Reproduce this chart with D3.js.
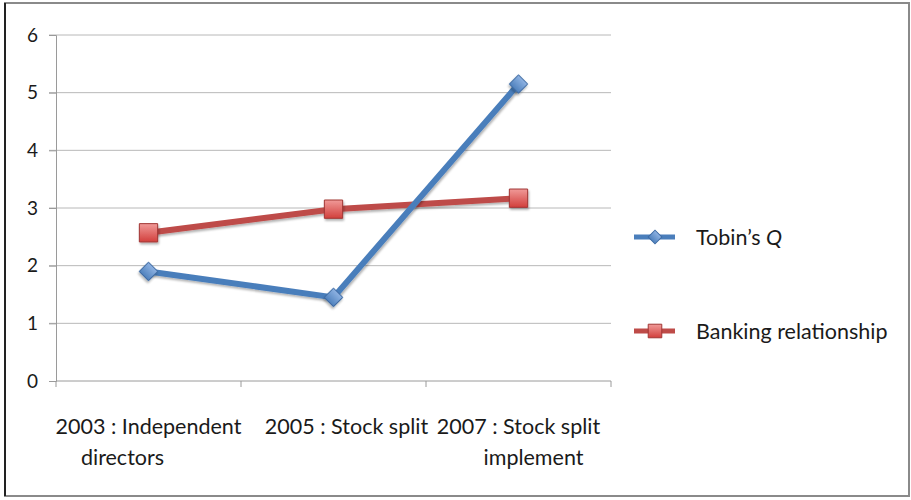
<!DOCTYPE html>
<html>
<head>
<meta charset="utf-8">
<script src="https://cdn.jsdelivr.net/npm/d3@7"></script>
<style>
  body { margin: 0; background: #fff; }
  svg text { font-family: Lato, "Open Sans", sans-serif; fill: #1a1a1a; }
</style>
</head>
<body>
<div id="chart"></div>
<script>
const categories = [["2003 : Independent", "directors"], ["2005 : Stock split"], ["2007 : Stock split", "implement"]];
const tobinsQ = [1.9, 1.45, 5.15];
const banking = [2.57, 2.98, 3.17];
const yTicks = [0, 1, 2, 3, 4, 5, 6];
const seriesNames = ["Tobin\u2019s ", "Banking relationship"];

const width = 911, height = 500;
const svg = d3.select("#chart").append("svg").attr("width", width).attr("height", height);

const defs = svg.append("defs");
const sh = defs.append("filter").attr("id", "shadow").attr("x", "-20%").attr("y", "-20%").attr("width", "150%").attr("height", "150%");
sh.append("feDropShadow").attr("dx", 1).attr("dy", 2).attr("stdDeviation", 1.2).attr("flood-color", "#000").attr("flood-opacity", 0.3);

const gBlue = defs.append("linearGradient").attr("id", "gBlue").attr("x1", 0).attr("y1", 0).attr("x2", 0).attr("y2", 1);
gBlue.append("stop").attr("offset", "0%").attr("stop-color", "#8fb3e3");
gBlue.append("stop").attr("offset", "100%").attr("stop-color", "#4f81bd");
const gRed = defs.append("linearGradient").attr("id", "gRed").attr("x1", 0).attr("y1", 0).attr("x2", 0).attr("y2", 1);
gRed.append("stop").attr("offset", "0%").attr("stop-color", "#f09a98");
gRed.append("stop").attr("offset", "100%").attr("stop-color", "#d23f3c");

// outer frame
svg.append("rect").attr("x", 5).attr("y", 3).attr("width", 904).attr("height", 493)
  .attr("fill", "#fff").attr("stroke", "#8a8a8a").attr("stroke-width", 2);
svg.append("line").attr("x1", 5).attr("x2", 5).attr("y1", 3).attr("y2", 496).attr("stroke", "#222").attr("stroke-width", 2);

const x0 = 56, x1 = 611, yTop = 35, yBot = 381;
const x = d3.scaleBand().domain(d3.range(categories.length)).range([x0, x1]);
const y = d3.scaleLinear().domain([0, 6]).range([yBot, yTop]);
const cx = i => x(i) + x.bandwidth() / 2;

// gridlines
svg.append("g").selectAll("line").data(yTicks.filter(d => d > 0)).join("line")
  .attr("x1", x0 - 7).attr("x2", x1).attr("y1", d => y(d)).attr("y2", d => y(d))
  .attr("stroke", "#b8b8b8").attr("stroke-width", 1);

// y axis
const yAxis = svg.append("g").attr("transform", `translate(${x0},0)`)
  .call(d3.axisLeft(y).tickValues(yTicks).tickSize(7).tickPadding(11).tickFormat(d3.format("d")));
yAxis.select(".domain").attr("stroke", "#9a9a9a");
yAxis.selectAll(".tick line").attr("stroke", "#9a9a9a");
yAxis.selectAll(".tick text").style("font-size", "19px").attr("fill", "#1a1a1a");

// x axis
svg.append("line").attr("x1", x0).attr("x2", x1).attr("y1", yBot).attr("y2", yBot).attr("stroke", "#9a9a9a");
svg.append("g").selectAll("line").data(d3.range(categories.length + 1)).join("line")
  .attr("x1", i => x0 + i * x.bandwidth()).attr("x2", i => x0 + i * x.bandwidth())
  .attr("y1", yBot).attr("y2", yBot + 6).attr("stroke", "#9a9a9a");

// wrapped label lines are not all centred on the category in the original
const lineShift = [[0, -26], [13, 0], [0, 15]];
const xl = svg.append("g").selectAll("text").data(categories).join("text")
  .attr("text-anchor", "middle").style("font-size", "21.5px");
xl.each(function (lines, i) {
  d3.select(this).selectAll("tspan").data(lines).join("tspan")
    .attr("x", (d, j) => cx(i) + lineShift[i][j])
    .attr("y", (d, j) => 434 + j * 31)
    .text(d => d);
});

// series
const lineGen = d3.line().x((d, i) => cx(i)).y(d => y(d));
const series = [
  { values: tobinsQ, color: "#4a7ebb", fill: "url(#gBlue)", stroke: "#3d6aa3", shape: d3.symbolSquare, rot: 45, size: 170 },
  { values: banking, color: "#be4b48", fill: "url(#gRed)", stroke: "#a13634", shape: d3.symbolSquare, rot: 0, size: 335 }
];
// draw red first so blue crosses over it
[series[1], series[0]].forEach(s => {
  svg.append("path").datum(s.values).attr("d", lineGen)
    .attr("fill", "none").attr("stroke", s.color).attr("stroke-width", 6).attr("stroke-linejoin", "round")
    .attr("filter", "url(#shadow)");
});
[series[1], series[0]].forEach(s => {
  svg.append("g").selectAll("path").data(s.values).join("path")
    .attr("transform", (d, i) => `translate(${cx(i)},${y(d)}) rotate(${s.rot})`)
    .attr("d", d3.symbol().type(s.shape).size(s.size))
    .attr("fill", s.fill).attr("stroke", s.stroke).attr("stroke-width", 1)
    .attr("filter", "url(#shadow)");
});

// legend
const legY = [237, 331];
series.forEach((s, i) => {
  const g = svg.append("g").attr("transform", `translate(634,${legY[i]})`);
  g.append("line").attr("x1", 0).attr("x2", 41).attr("stroke", s.color).attr("stroke-width", 5);
  g.append("path").attr("transform", `translate(21,0) rotate(${s.rot})`)
    .attr("d", d3.symbol().type(s.shape).size(s.size * 0.55))
    .attr("fill", s.fill).attr("stroke", s.stroke);
  const t = g.append("text").attr("x", 62).attr("y", 0).attr("dy", "0.35em").style("font-size", "21.5px")
    .text(seriesNames[i]);
  if (i === 0) t.append("tspan").style("font-style", "italic").text("Q");
});
</script>
</body>
</html>
